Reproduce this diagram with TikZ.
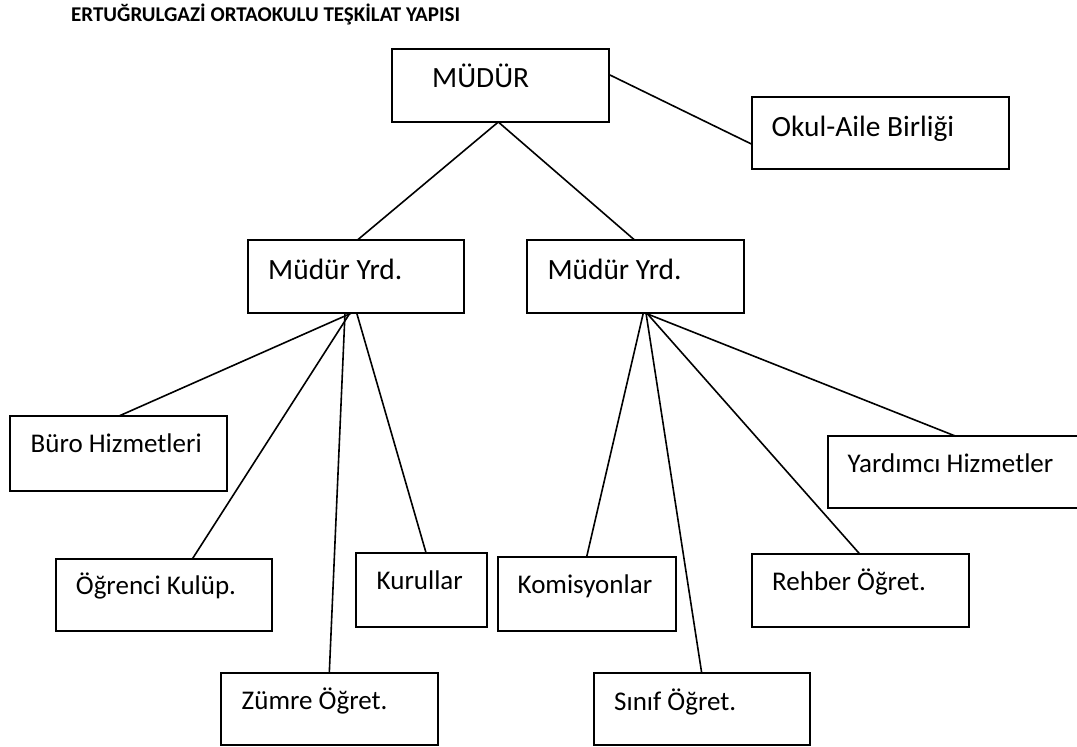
\documentclass[tikz,border=0pt]{standalone}
\usepackage{fontspec}
\setmainfont{Carlito}
\begin{document}
\begin{tikzpicture}[x=1pt,y=-1pt,
  box/.style={draw=black, line width=2pt, inner sep=0pt, outer sep=0pt, anchor=north west},
  big/.style={anchor=base west, inner sep=0pt, font=\fontsize{29.4}{34}\selectfont},
  small/.style={anchor=base west, inner sep=0pt, font=\fontsize{27}{31}\selectfont},
  link/.style={draw=black, line width=1.6pt}]
\useasboundingbox (0,0) rectangle (1077,747);
% title
\node[anchor=base west, inner sep=0pt, font=\bfseries\fontsize{21}{25}\selectfont] (title) at (71,21) {ERTUĞRULGAZİ ORTAOKULU TEŞKİLAT YAPISI};
% boxes
\node[box, minimum width=216.5pt, minimum height=73pt] (mudur) at (392,49) {};
\node[box, minimum width=257pt, minimum height=72pt] (okul) at (752,96.7) {};
\node[box, minimum width=216.6pt, minimum height=72.7pt] (yl) at (247.6,240.3) {};
\node[box, minimum width=216.9pt, minimum height=72.7pt] (yr) at (526.9,240.3) {};
\node[box, minimum width=217pt, minimum height=74.7pt] (buro) at (9.7,416) {};
\node[box, minimum width=216.6pt, minimum height=71.7pt] (ogr) at (55.7,559) {};
\node[box, minimum width=131pt, minimum height=74pt] (kur) at (355.7,552.7) {};
\node[box, minimum width=216.7pt, minimum height=72pt] (zum) at (221,673) {};
\node[box, minimum width=178pt, minimum height=74.3pt] (kom) at (497.7,556.7) {};
\node[box, minimum width=216.6pt, minimum height=72.3pt] (sin) at (593.7,673) {};
\node[box, minimum width=217pt, minimum height=72.7pt] (reh) at (752,554.3) {};
\node[box, minimum width=260pt, minimum height=71.7pt] (yar) at (827.7,436.3) {};
% texts
\node[big] (mudurt) at (432,87) {MÜDÜR};
\node[big] (okult) at (771.5,136) {Okul-Aile Birliği};
\node[big] (ylt) at (268,279.3) {Müdür Yrd.};
\node[big] (yrt) at (547.3,279.3) {Müdür Yrd.};
\node[small] (burot) at (30.5,452.7) {Büro Hizmetleri};
\node[small] (ogrt) at (75.7,594.3) {Öğrenci Kulüp.};
\node[small] (kurt) at (376.5,589) {Kurullar};
\node[small] (zumt) at (241.5,709.3) {Zümre Öğret.};
\node[small] (komt) at (517.5,593.3) {Komisyonlar};
\node[small] (sint) at (614,710.3) {Sınıf Öğret.};
\node[small] (reht) at (772,590.3) {Rehber Öğret.};
\node[small] (yart) at (847.5,472) {Yardımcı Hizmetler};
% connectors
\draw[link] ([xshift=106.3pt]mudur.south west) -- ([xshift=109.5pt]yl.north west);
\draw[link] ([xshift=106.3pt]mudur.south west) -- ([xshift=108pt]yr.north west);
\draw[link] ([yshift=-25.3pt]mudur.north east) -- ([yshift=-47.6pt]okul.north west);
\draw[link] ([xshift=104.1pt]yl.south west) -- ([xshift=109.3pt]buro.north west);
\draw[link] ([xshift=102.4pt]yl.south west) -- ([xshift=136.6pt]ogr.north west);
\draw[link] ([xshift=97.4pt]yl.south west) -- ([xshift=108.3pt]zum.north west);
\draw[link] ([xshift=109.1pt]yl.south west) -- ([xshift=70.3pt]kur.north west);
\draw[link] ([xshift=116.4pt]yr.south west) -- ([xshift=89pt]kom.north west);
\draw[link] ([xshift=119.1pt]yr.south west) -- ([xshift=108pt]sin.north west);
\draw[link] ([xshift=119.8pt]yr.south west) -- ([xshift=108pt]reh.north west);
\draw[link] ([xshift=118.1pt]yr.south west) -- ([xshift=128.3pt]yar.north west);
\end{tikzpicture}
\end{document}
